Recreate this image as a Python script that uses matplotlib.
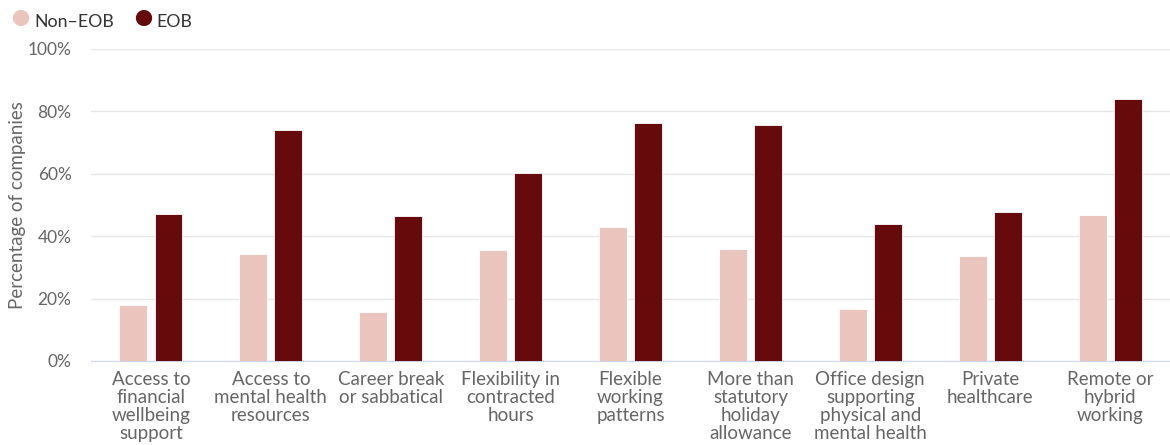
import matplotlib.pyplot as plt
import numpy as np

categories = ['Access to\nfinancial\nwellbeing\nsupport',
              'Access to\nmental health\nresources',
              'Career break\nor sabbatical',
              'Flexibility in\ncontracted\nhours',
              'Flexible\nworking\npatterns',
              'More than\nstatutory\nholiday\nallowance',
              'Office design\nsupporting\nphysical and\nmental health',
              'Private\nhealthcare',
              'Remote or\nhybrid\nworking']
non_eob = [18.0, 34.2, 15.7, 35.5, 42.9, 35.8, 16.8, 33.7, 46.8]
eob = [47.0, 73.9, 46.4, 60.3, 76.2, 75.5, 43.9, 47.8, 83.9]

c_non = '#ebc5bd'
c_eob = '#670a0c'
txt = '#666666'

plt.rcParams['font.family'] = ['Lato', 'DejaVu Sans']

fig = plt.figure(figsize=(11.7, 4.45), dpi=100)
ax = fig.add_axes([0.0778, 0.1888, 0.9222, 0.7011])

x = np.arange(len(categories))
w = 0.233
off = 0.146
ax.bar(x - off, non_eob, w, color=c_non, edgecolor='white', linewidth=0.6, zorder=3)
ax.bar(x + off, eob, w, color=c_eob, edgecolor='white', linewidth=0.6, zorder=3)

ax.set_xlim(-0.5, len(categories) - 0.5)
ax.set_ylim(0, 100)
ax.set_yticks(np.arange(0, 101, 20))
ax.set_yticklabels([f'{v}%' for v in range(0, 101, 20)])
ax.yaxis.grid(True, color='#e6e6e6', linewidth=1, zorder=0)
ax.set_xticks(x)
ax.set_xticklabels(categories, linespacing=1.08)
ax.tick_params(axis='x', length=0, pad=7, labelsize=13.5, labelcolor=txt)
ax.tick_params(axis='y', length=0, pad=14, labelsize=12.5, labelcolor=txt)
for side in ['top', 'right', 'left']:
    ax.spines[side].set_visible(False)
ax.spines['bottom'].set_color('#ccd6eb')
ax.set_ylabel('Percentage of companies', fontsize=13.5, color=txt, labelpad=1)

# legend along the top edge
fig.text(0.017, 0.957, '\u25cf', color=c_non, fontsize=24, va='center', ha='center')
fig.text(0.029, 0.950, 'Non\u2013EOB', color='#333333', fontsize=12.8, va='center')
fig.text(0.122, 0.957, '\u25cf', color=c_eob, fontsize=24, va='center', ha='center')
fig.text(0.134, 0.950, 'EOB', color='#333333', fontsize=12.8, va='center')

fig.savefig('out.png', dpi=100)
